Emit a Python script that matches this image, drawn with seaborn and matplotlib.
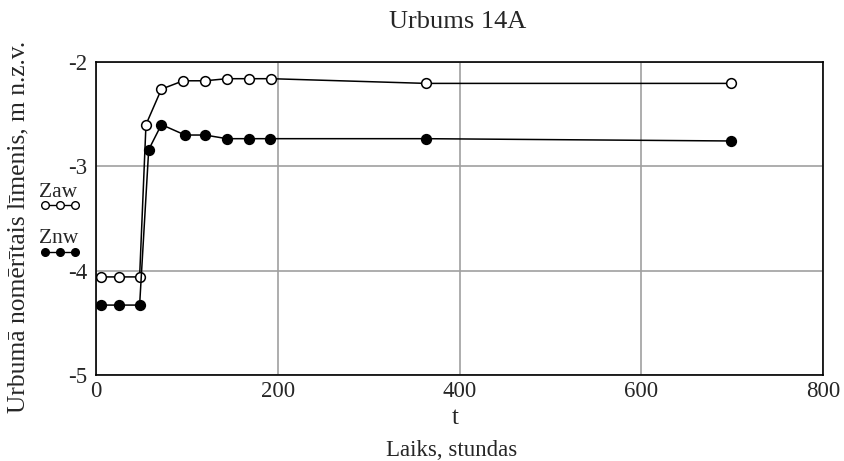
import numpy as np
import pandas as pd
import matplotlib
matplotlib.use("Agg")
import matplotlib.pyplot as plt
import seaborn as sns
from matplotlib.lines import Line2D

# values
t_zaw = [6, 25, 48, 55, 72, 96, 120, 144, 168, 193, 363, 699]
zaw = [-4.06, -4.06, -4.06, -2.60, -2.26, -2.18, -2.18, -2.16, -2.16, -2.16, -2.205, -2.205]
t_znw = [6, 25, 48, 58, 72, 98, 120, 144, 168, 191, 363, 699]
znw = [-4.33, -4.33, -4.33, -2.84, -2.60, -2.70, -2.70, -2.735, -2.735, -2.735, -2.735, -2.757]

x_ticks = [0, 200, 400, 600, 800]
y_ticks = [-5, -4, -3, -2]

sns.set_style("white")
plt.rcParams['font.family'] = ['Liberation Serif', 'DejaVu Serif']

fig = plt.figure(figsize=(8.45, 4.61), dpi=100)
ax = fig.add_axes([0.1136, 0.1866, 0.8604, 0.6789])

df_a = pd.DataFrame({"t": t_zaw, "z": zaw})
df_n = pd.DataFrame({"t": t_znw, "z": znw})

sns.lineplot(data=df_a, x="t", y="z", ax=ax, color="black", lw=1.1,
             marker="o", markersize=7, markerfacecolor="white",
             markeredgecolor="black", markeredgewidth=1.1, sort=False, zorder=3)
sns.lineplot(data=df_n, x="t", y="z", ax=ax, color="black", lw=1.1,
             marker="o", markersize=7, markerfacecolor="black",
             markeredgecolor="black", markeredgewidth=1.1, sort=False, zorder=3)

ax.set_xlim(0, 800)
ax.set_ylim(-5, -2)
ax.set_xticks(x_ticks)
ax.set_yticks(y_ticks)
ax.set_xticklabels([str(v) for v in x_ticks], fontsize=16.5)
ax.set_yticklabels([str(v) for v in y_ticks], fontsize=16.5)
ax.tick_params(axis="x", length=0, pad=4.5)
ax.tick_params(axis="y", length=0, pad=6.5)
ax.grid(True, color="#a0a0a0", lw=1.2)
for s in ax.spines.values():
    s.set_color("black")
    s.set_linewidth(1.2)

ax.set_xlabel("")
ax.set_ylabel("")

fig.text(0.542, 0.952, "Urbums 14A", ha="center", va="center", fontsize=19)
fig.text(0.539, 0.094, "t", ha="center", va="center", fontsize=18)
fig.text(0.535, 0.022, "Laiks, stundas", ha="center", va="center", fontsize=16.5)
fig.text(0.022, 0.508, "Urbumā nomērītais līmenis, m n.z.v.", rotation=90,
         ha="center", va="center", fontsize=18.4)

# legend drawn by hand: label above a row of three markers
fig.text(0.069, 0.582, "Zaw", ha="center", va="center", fontsize=15.5)
fig.add_artist(Line2D([0.053, 0.071, 0.089], [0.555, 0.555, 0.555],
                      transform=fig.transFigure, color="black", lw=1,
                      marker="o", markersize=5.5, markerfacecolor="white",
                      markeredgecolor="black"))
fig.text(0.069, 0.482, "Znw", ha="center", va="center", fontsize=15.5)
fig.add_artist(Line2D([0.053, 0.071, 0.089], [0.453, 0.453, 0.453],
                      transform=fig.transFigure, color="black", lw=1,
                      marker="o", markersize=5.5, markerfacecolor="black",
                      markeredgecolor="black"))

fig.savefig("out.png", dpi=100)
